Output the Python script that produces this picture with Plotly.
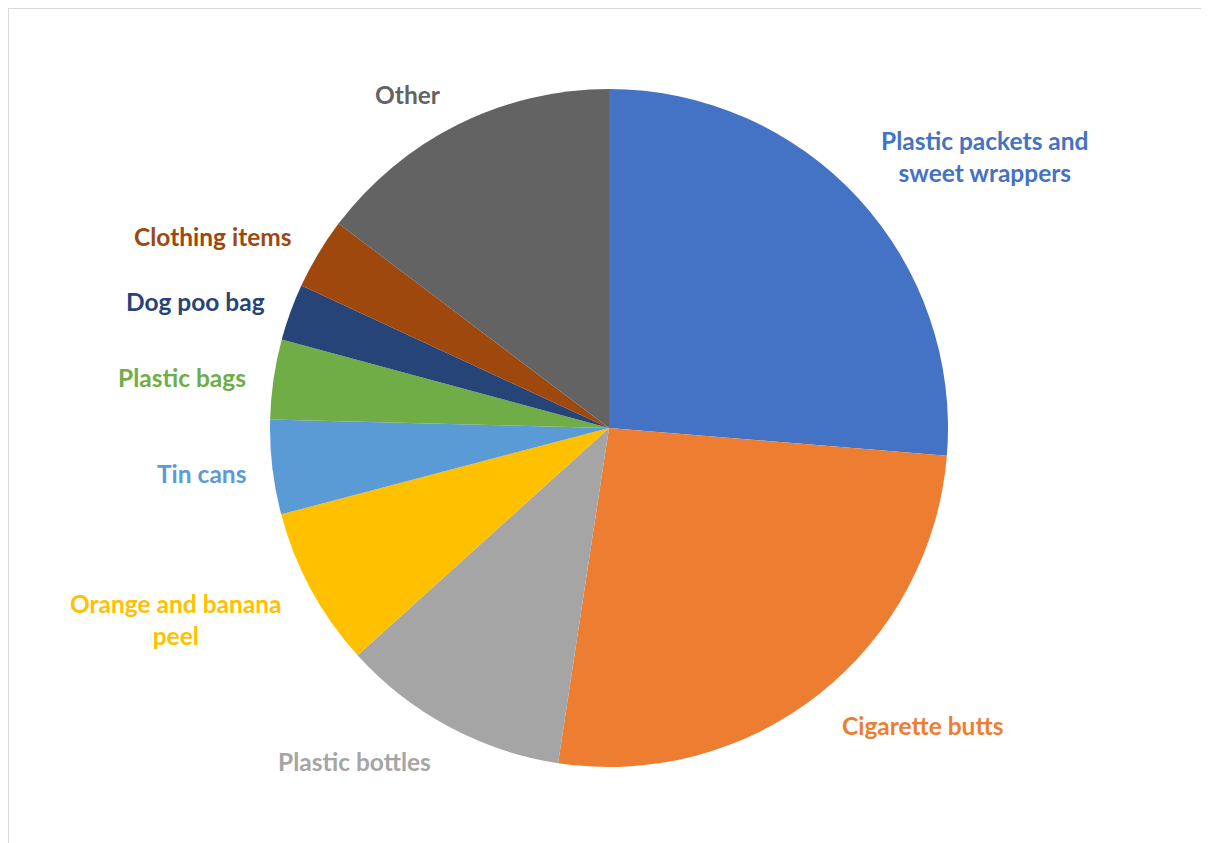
import plotly.graph_objects as go

labels = ["Plastic packets and sweet wrappers", "Cigarette butts", "Plastic bottles",
          "Orange and banana peel", "Tin cans", "Plastic bags", "Dog poo bag",
          "Clothing items", "Other"]
label_text = ["Plastic packets and<br>sweet wrappers", "Cigarette butts", "Plastic bottles",
              "Orange and banana<br>peel", "Tin cans", "Plastic bags", "Dog poo bag",
              "Clothing items", "Other"]
values = [26.3, 26.1, 10.9, 7.6, 4.5, 3.8, 2.7, 3.4, 14.7]
colors = ["#4472C4", "#ED7D31", "#A5A5A5", "#FFC000", "#5B9BD5", "#70AD47",
          "#264478", "#9E480E", "#636363"]

# label anchor positions in window pixels (x from left, y from top)
label_pos = [(985, 156), (922, 725), (354, 761), (176, 619), (201, 473),
             (182, 377), (195, 301), (213, 236), (408, 94)]

W, H = 1209, 843
OFF = 8  # page body margin offset
cx, cy, r = 609 - OFF, 428 - OFF, 339

fig = go.Figure(go.Pie(
    labels=labels, values=values, sort=False, direction="clockwise", rotation=0,
    marker=dict(colors=colors, line=dict(width=0)),
    textinfo="none", hoverinfo="label+percent",
    domain=dict(x=[(cx - r) / W, (cx + r) / W], y=[(H - cy - r) / H, (H - cy + r) / H]),
))

for t, c, (px, py) in zip(label_text, colors, label_pos):
    fig.add_annotation(x=(px - OFF) / W, y=1 - (py - OFF) / H, xref="paper", yref="paper",
                       text="<b>" + t + "</b>", showarrow=False, align="center",
                       xanchor="center", yanchor="middle",
                       font=dict(family="Lato", size=24.5, color=c))

# chart-area border: only top and left edges are visible in the window
fig.add_shape(type="line", xref="paper", yref="paper", x0=0, x1=1, y0=1, y1=1,
              line=dict(color="#D9D9D9", width=2))
fig.add_shape(type="line", xref="paper", yref="paper", x0=0, x1=0, y0=0, y1=1,
              line=dict(color="#D9D9D9", width=2))

fig.update_layout(width=W, height=H, margin=dict(l=0, r=0, t=0, b=0),
                  showlegend=False, paper_bgcolor="white", plot_bgcolor="white")

fig.write_html("out.html")
